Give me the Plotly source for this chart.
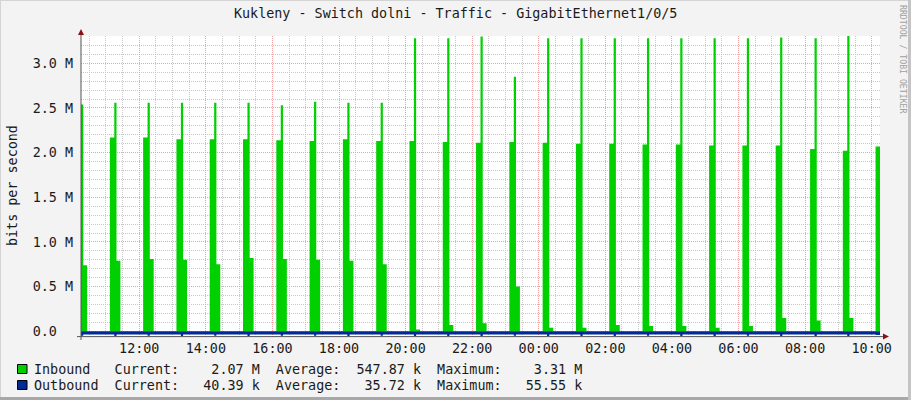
import plotly.graph_objects as go
from datetime import datetime, timedelta

# ---------------- data ----------------
DAY0 = "2024-05-14"
DAY1 = "2024-05-15"
RANGE_START = DAY0 + " 10:15"
RANGE_END = DAY1 + " 10:15"

# start of each hourly burst (HH:MM); first one is partly before the window
event_start = ["10:07", "11:07", "12:07", "13:07", "14:07", "15:07", "16:07",
               "17:07", "18:07", "19:07", "20:07", "21:07", "22:07", "23:07",
               "00:07", "01:07", "02:07", "03:07", "04:07", "05:07", "06:07",
               "07:07", "08:09", "09:08", "10:07"]
event_day = [0] * 14 + [1] * 11

# inbound, Mbit/s
in_base = [None, 2.17, 2.17, 2.15, 2.15, 2.15, 2.14, 2.13, 2.15, 2.13, 2.13,
           2.12, 2.11, 2.12, 2.11, 2.10, 2.10, 2.09, 2.09, 2.08, 2.08, 2.08,
           2.04, 2.02, 2.07]
in_peak = [2.54, 2.56, 2.56, 2.56, 2.56, 2.56, 2.53, 2.57, 2.56, 2.56, 3.28,
           3.28, 3.30, 2.85, 3.28, 3.28, 3.28, 3.28, 3.28, 3.28, 3.28, 3.29,
           3.28, 3.31, None]
in_tail = [0.74, 0.79, 0.81, 0.80, 0.75, 0.82, 0.81, 0.80, 0.79, 0.75, 0.02,
           0.07, 0.09, 0.50, 0.04, 0.04, 0.07, 0.06, 0.06, 0.04, 0.06, 0.15,
           0.12, 0.15, None]

# outbound, Mbit/s (drawn downwards)
out_idle = [0.035, 0.036, 0.035, 0.036, 0.035, 0.036, 0.035, 0.036, 0.035,
            0.036, 0.035, 0.036, 0.035, 0.036, 0.035, 0.036, 0.035, 0.036,
            0.035, 0.036, 0.035, 0.036, 0.035, 0.036, 0.0404]
out_peak = [0.050, 0.052, 0.051, 0.052, 0.050, 0.052, 0.051, 0.050, 0.052,
            0.051, 0.053, 0.052, 0.054, 0.051, 0.052, 0.053, 0.052, 0.051,
            0.053, 0.052, 0.051, 0.054, 0.053, 0.0556, None]

# durations of the burst phases (minutes)
BASE_MIN, PEAK_MIN, TAIL_MIN = 8, 4, 7

y_tickvals = [0.0, 0.5, 1.0, 1.5, 2.0, 2.5, 3.0]
y_ticktext = ["0.0\u00a0\u00a0", "0.5 M", "1.0 M", "1.5 M", "2.0 M", "2.5 M", "3.0 M"]

title = "Kukleny - Switch dolni - Traffic - GigabitEthernet1/0/5"
y_title = "bits per second"
series_names = ["Inbound", "Outbound"]
stat_current = ["2.07 M", "40.39 k"]
stat_average = ["547.87 k", "35.72 k"]
stat_maximum = ["3.31 M", "55.55 k"]
series_colors = ["#00CF00", "#002A97"]

# ---------------- build step series ----------------
def ts(i):
    d = DAY0 if event_day[i] == 0 else DAY1
    return datetime.strptime(d + " " + event_start[i], "%Y-%m-%d %H:%M")

fmt = "%Y-%m-%d %H:%M:%S"
rs = datetime.strptime(RANGE_START, "%Y-%m-%d %H:%M")
re_ = datetime.strptime(RANGE_END, "%Y-%m-%d %H:%M")

in_x, in_y = [], []
out_x, out_y = [rs.strftime(fmt)], [-out_idle[0]]
for i in range(len(event_start)):
    t = ts(i)
    tp = t + timedelta(minutes=BASE_MIN)
    tt = tp + timedelta(minutes=PEAK_MIN)
    te = tt + timedelta(minutes=TAIL_MIN)
    if in_base[i] is not None:
        in_x.append(t.strftime(fmt)); in_y.append(in_base[i])
    if in_peak[i] is not None:
        in_x.append(tp.strftime(fmt)); in_y.append(in_peak[i])
        out_x.append(tp.strftime(fmt)); out_y.append(-out_peak[i])
        out_x.append(tt.strftime(fmt)); out_y.append(-out_idle[i])
    else:
        out_x.append(t.strftime(fmt)); out_y.append(-out_idle[i])
    if in_tail[i] is not None:
        in_x.append(tt.strftime(fmt)); in_y.append(in_tail[i])
        in_x.append(te.strftime(fmt)); in_y.append(0.0)
in_x.append(re_.strftime(fmt)); in_y.append(in_base[-1])
out_x.append(re_.strftime(fmt)); out_y.append(-out_idle[-1])

fig = go.Figure()
fig.add_trace(go.Scatter(x=in_x, y=in_y, mode="lines", line_shape="hv",
                         line=dict(width=0, color=series_colors[0]),
                         fill="tozeroy", fillcolor=series_colors[0],
                         hoverinfo="skip"))
fig.add_trace(go.Scatter(x=out_x, y=out_y, mode="lines", line_shape="hv",
                         line=dict(width=0, color=series_colors[1]),
                         fill="tozeroy", fillcolor=series_colors[1],
                         hoverinfo="skip"))

# ---------------- layout ----------------
L, R, T, B = 81, 880, 36, 337
W, H = 911, 400
def px(x):
    return (x - L) / (R - L)
def py(y):
    return (B - y) / (B - T)

FONT = "DejaVu Sans Mono"
FS = 13.4
GRAY = "#C8C8C8"
RED = "#F0A0A0"
DASH = "1px,1px"
TXT = "#1A1A1A"

fig.update_layout(
    width=W, height=H,
    margin=dict(l=L, r=W - R, t=T, b=H - B, pad=0, autoexpand=False),
    paper_bgcolor="#F3F3F3", plot_bgcolor="#FFFFFF",
    showlegend=False,
    font=dict(family=FONT, size=FS, color=TXT),
)
fig.update_xaxes(
    type="date", range=[rs.strftime(fmt), re_.strftime(fmt)],
    tickformat="%H:%M", dtick=7200000, tick0=DAY0 + " 00:00",
    showgrid=True, gridcolor=RED, griddash=DASH, gridwidth=1,
    minor=dict(dtick=1800000, tick0=DAY0 + " 00:00", showgrid=True,
               gridcolor=GRAY, griddash=DASH, gridwidth=1, ticks=""),
    showline=False, zeroline=False, ticks="", ticklabelstandoff=2,
    automargin=False,
    tickfont=dict(family=FONT, size=FS, color=TXT),
)
fig.update_yaxes(
    range=[-0.064, 3.306],
    tickmode="array", tickvals=y_tickvals, ticktext=y_ticktext,
    showgrid=True, gridcolor=RED, griddash=DASH, gridwidth=1,
    minor=dict(tickmode="linear", dtick=0.1, tick0=0, showgrid=True,
               gridcolor=GRAY, griddash=DASH, gridwidth=1, ticks=""),
    showline=False, zeroline=False, ticks="", ticklabelstandoff=7,
    automargin=False,
    tickfont=dict(family=FONT, size=FS, color=TXT),
)

AXC = "#555555"
ARC = "#8B1010"
shapes = [
    # axes
    dict(type="line", xref="paper", yref="paper", x0=px(81), x1=px(81),
         y0=py(31), y1=py(340), line=dict(color=AXC, width=1), layer="above"),
    dict(type="line", xref="paper", yref="paper", x0=px(77), x1=px(885),
         y0=py(336.6), y1=py(336.6), line=dict(color=AXC, width=1), layer="above"),
    # arrow heads
    dict(type="path", xref="paper", yref="paper",
         path=f"M {px(81)} {py(29)} L {px(78)} {py(35)} L {px(84)} {py(35)} Z",
         fillcolor=ARC, line=dict(width=0), layer="above"),
    dict(type="path", xref="paper", yref="paper",
         path=f"M {px(889)} {py(336.6)} L {px(883)} {py(333.6)} L {px(883)} {py(339.6)} Z",
         fillcolor=ARC, line=dict(width=0), layer="above"),
    # 3d frame
    dict(type="line", xref="paper", yref="paper", x0=px(0), x1=px(911),
         y0=py(0.5), y1=py(0.5), line=dict(color="#D4D4D4", width=1)),
    dict(type="line", xref="paper", yref="paper", x0=px(0.5), x1=px(0.5),
         y0=py(0), y1=py(400), line=dict(color="#D4D4D4", width=1)),
    dict(type="line", xref="paper", yref="paper", x0=px(0), x1=px(911),
         y0=py(398.5), y1=py(398.5), line=dict(color="#A8A8A8", width=3)),
    dict(type="line", xref="paper", yref="paper", x0=px(909.5), x1=px(909.5),
         y0=py(0), y1=py(400), line=dict(color="#C4C4C4", width=3)),
]

annotations = [
    dict(text=title, xref="paper", yref="paper", x=px(455.5), y=py(14),
         xanchor="center", yanchor="middle", showarrow=False,
         font=dict(family=FONT, size=FS, color=TXT)),
    dict(text=y_title, xref="paper", yref="paper", x=px(12), y=py(186),
         xanchor="center", yanchor="middle", showarrow=False, textangle=-90,
         font=dict(family=FONT, size=FS, color=TXT)),
    dict(text="RRDTOOL / TOBI OETIKER", xref="paper", yref="paper",
         x=px(903), y=py(59), xanchor="center", yanchor="middle",
         showarrow=False, textangle=90,
         font=dict(family=FONT, size=8.2, color="#A0A0A0")),
]

row_y = [369, 385]
for i in range(2):
    txt = (series_names[i].ljust(10) + "Current:" + stat_current[i].rjust(10)
           + "  " + "Average:" + stat_average[i].rjust(10) + "  "
           + "Maximum:" + stat_maximum[i].rjust(10))
    txt = txt.replace(" ", "\u00a0")
    annotations.append(dict(text=txt, xref="paper", yref="paper",
                            x=px(32), y=py(row_y[i]), xanchor="left",
                            yanchor="middle", showarrow=False,
                            font=dict(family=FONT, size=FS, color=TXT)))
    shapes.append(dict(type="rect", xref="paper", yref="paper",
                       x0=px(17.5), x1=px(27), y0=py(row_y[i] - 4.5),
                       y1=py(row_y[i] + 4.5), fillcolor=series_colors[i],
                       line=dict(color="#000000", width=1)))

fig.update_layout(shapes=shapes, annotations=annotations)
fig.write_html("out.html", config={"displayModeBar": False},
               post_script="document.body.style.margin='0';document.body.style.padding='0';")
